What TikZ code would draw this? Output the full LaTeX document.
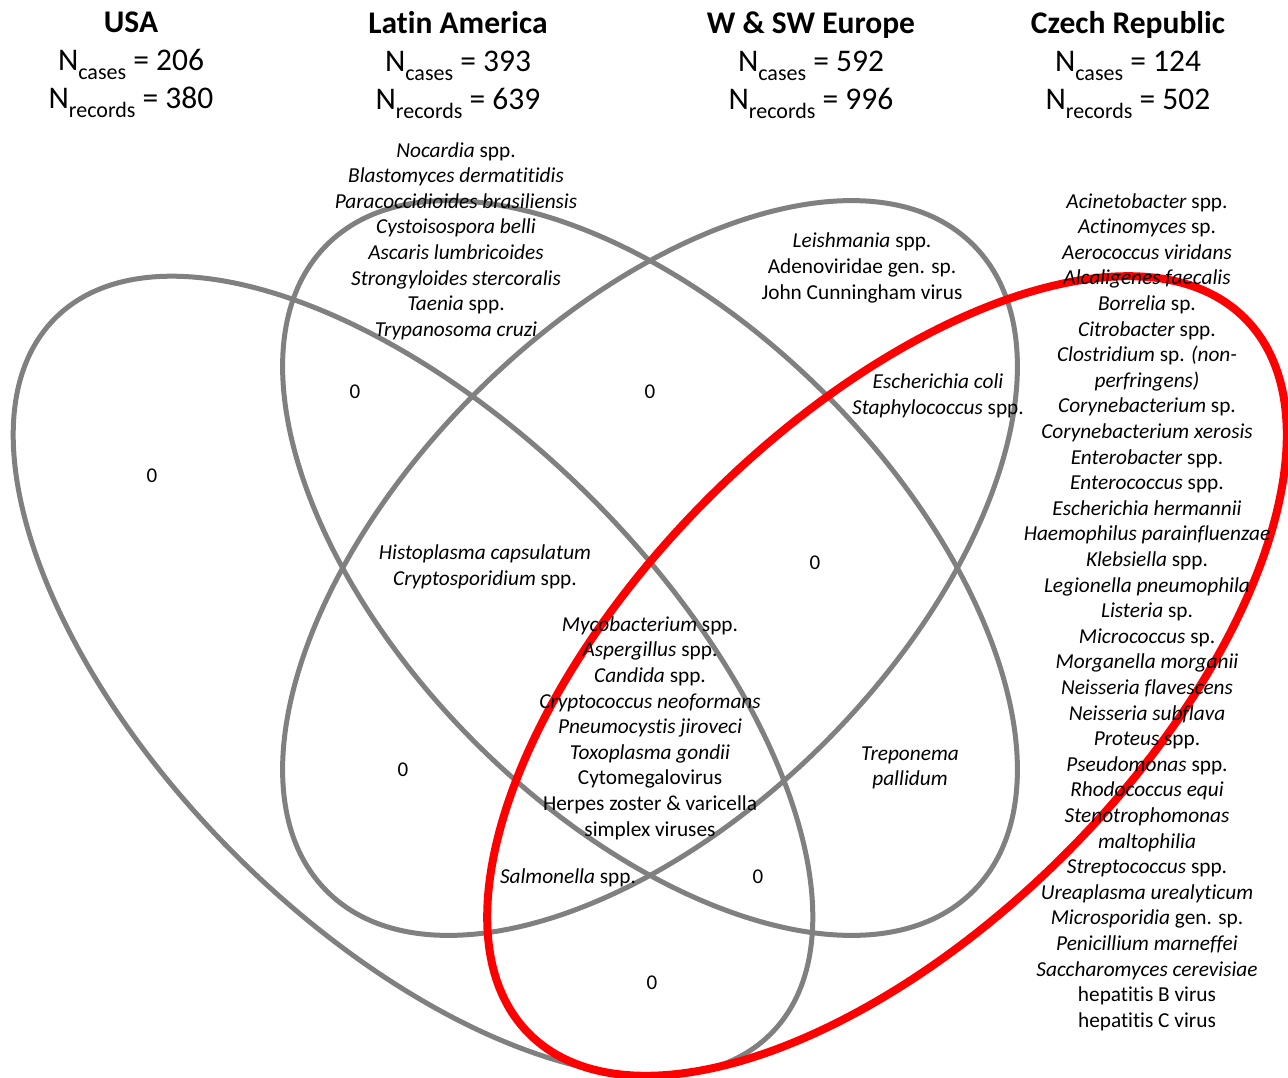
\documentclass[tikz,border=0pt]{standalone}
\usepackage{fontspec}
\setmainfont{Carlito}[Ligatures=NoCommon]
\definecolor{vgray}{RGB}{128,128,128}
\definecolor{vred}{RGB}{255,0,0}
\newcommand{\subtxt}[1]{\raisebox{-0.3em}{\fontsize{22}{22}\selectfont #1}}
\tikzset{
  venn/.style={draw=vgray, line width=5pt},
  czech/.style={draw=vred, line width=8pt},
  head/.style={align=center, font=\fontsize{31.5}{38}\selectfont},
  taxa/.style={align=center, font=\fontsize{21.3}{25.6}\selectfont},
  zero/.style={font=\fontsize{21}{21}\selectfont}
}
\begin{document}
\begin{tikzpicture}[x=1pt,y=1pt]
\useasboundingbox (0,0) rectangle (1288,-1078);
% the four sets
\draw[venn, rotate around={-45:(413,-676)}] (413,-676) ellipse [x radius=506, y radius=252];
\draw[venn, rotate around={-45:(650,-568)}] (650,-568) ellipse [x radius=457, y radius=247];
\draw[venn, rotate around={45:(650,-568)}] (650,-568) ellipse [x radius=457, y radius=247];
\draw[czech, rotate around={45:(887,-676)}] (887,-676) ellipse [x radius=506, y radius=252];
% headers
\node[head] (usa) at (131,-65) {\textbf{USA}\\N\subtxt{cases} = 206\\N\subtxt{records} = 380};
\node[head] (latam) at (458,-65) {\textbf{Latin America}\\N\subtxt{cases} = 393\\N\subtxt{records} = 639};
\node[head] (weur) at (811,-65) {\textbf{W \& SW Europe}\\N\subtxt{cases} = 592\\N\subtxt{records} = 996};
\node[head] (cz) at (1128,-65) {\textbf{Czech Republic}\\N\subtxt{cases} = 124\\N\subtxt{records} = 502};
% regions
\node[taxa] (latamonly) at (456,-241) {\textit{Nocardia} spp.\\\textit{Blastomyces dermatitidis}\\\textit{Paracoccidioides brasiliensis}\\\textit{Cystoisospora belli}\\\textit{Ascaris lumbricoides}\\\textit{Strongyloides stercoralis}\\\textit{Taenia} spp.\\\textit{Trypanosoma cruzi}};
\node[taxa] (weuronly) at (862,-268) {\textit{Leishmania} spp.\\Adenoviridae gen. sp.\\John Cunningham virus};
\node[taxa] (weurcz) at (938,-396) {\textit{Escherichia coli}\\\textit{Staphylococcus} spp.};
\node[taxa] (histo) at (485,-567) {\textit{Histoplasma capsulatum}\\\textit{Cryptosporidium} spp.};
\node[taxa] (all) at (650,-728) {\textit{Mycobacterium} spp.\\\textit{Aspergillus} spp.\\\textit{Candida} spp.\\\textit{Cryptococcus neoformans}\\\textit{Pneumocystis jiroveci}\\\textit{Toxoplasma gondii}\\Cytomegalovirus\\Herpes zoster \& varicella\\simplex viruses};
\node[taxa] (trepo) at (910,-768) {\textit{Treponema}\\\textit{pallidum}};
\node[taxa] (salmo) at (568,-878) {\textit{Salmonella} spp.};
\node[taxa] (czonly) at (1147,-612) {\textit{Acinetobacter} spp.\\\textit{Actinomyces} sp.\\\textit{Aerococcus viridans}\\\textit{Alcaligenes faecalis}\\\textit{Borrelia} sp.\\\textit{Citrobacter} spp.\\\textit{Clostridium} sp. \textit{(non-}\\\textit{perfringens)}\\\textit{Corynebacterium} sp.\\\textit{Corynebacterium xerosis}\\\textit{Enterobacter} spp.\\\textit{Enterococcus} spp.\\\textit{Escherichia hermannii}\\\textit{Haemophilus parainfluenzae}\\\textit{Klebsiella} spp.\\\textit{Legionella pneumophila}\\\textit{Listeria} sp.\\\textit{Micrococcus} sp.\\\textit{Morganella morganii}\\\textit{Neisseria flavescens}\\\textit{Neisseria subflava}\\\textit{Proteus} spp.\\\textit{Pseudomonas} spp.\\\textit{Rhodococcus equi}\\\textit{Stenotrophomonas}\\\textit{maltophilia}\\\textit{Streptococcus} spp.\\\textit{Ureaplasma urealyticum}\\\textit{Microsporidia} gen. sp.\\\textit{Penicillium marneffei}\\\textit{Saccharomyces cerevisiae}\\hepatitis B virus\\hepatitis C virus};
% empty regions
\node[zero] (z1) at (152,-476) {0};
\node[zero] (z2) at (355,-392) {0};
\node[zero] (z3) at (650,-392) {0};
\node[zero] (z4) at (815,-563) {0};
\node[zero] (z5) at (403,-770) {0};
\node[zero] (z6) at (758,-877) {0};
\node[zero] (z7) at (652,-983) {0};
\end{tikzpicture}
\end{document}
